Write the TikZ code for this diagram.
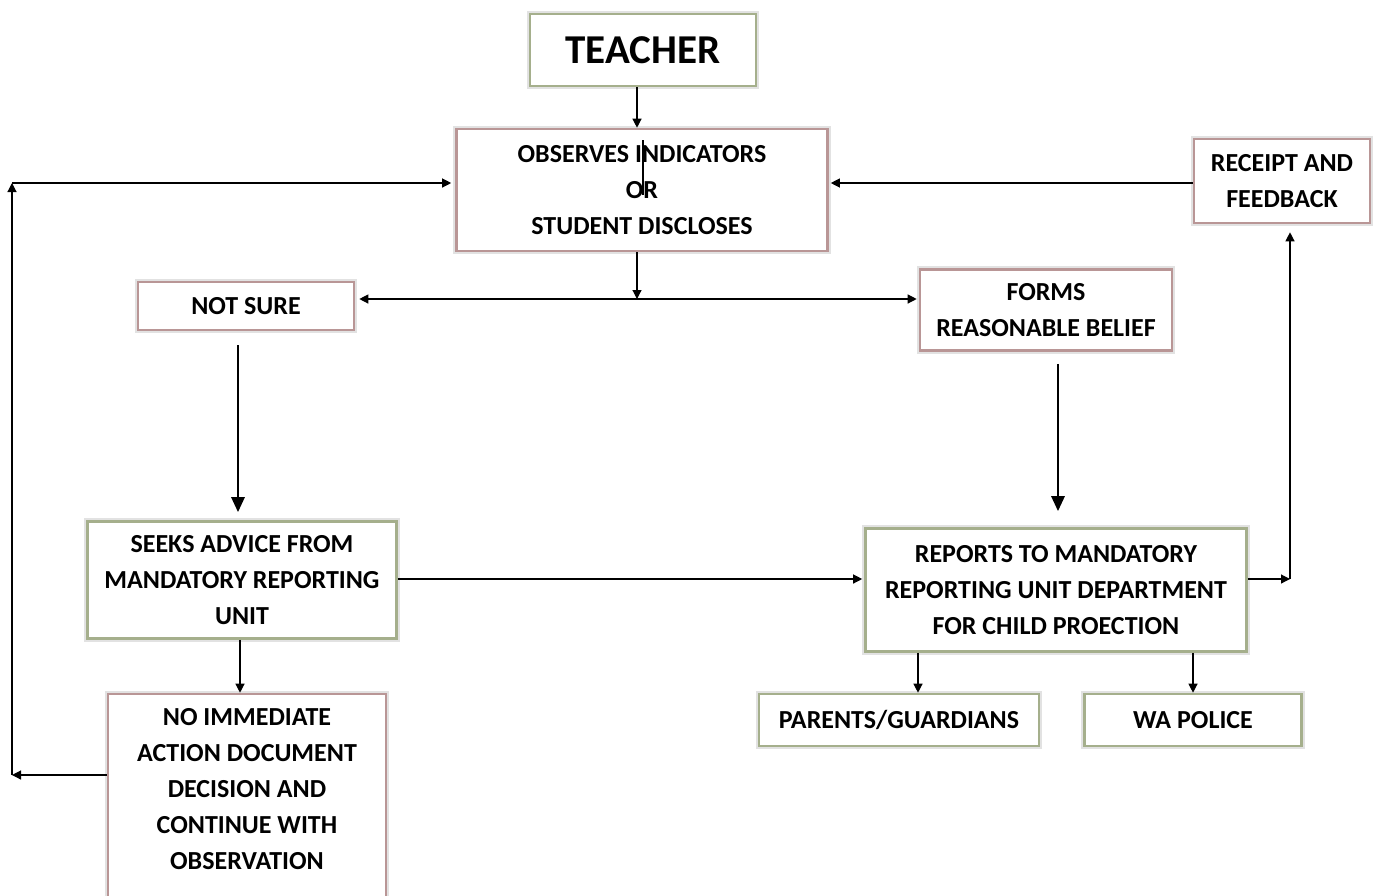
\documentclass[tikz,border=0pt]{standalone}
\usepackage{fontspec}
\setmainfont{Carlito}
\usetikzlibrary{arrows.meta}
\definecolor{framegreen}{RGB}{165,175,140}
\definecolor{framepink}{RGB}{185,150,150}
\definecolor{frameshade}{RGB}{226,226,226}

\begin{document}
\begin{tikzpicture}[x=0.5pt,y=-0.5pt,
    flowbox/.style={preaction={draw=frameshade,line width=3.2pt},draw=#1,line width=1.3pt,
      fill=white,align=center,font=\fontsize{13}{18}\selectfont\bfseries,inner sep=0pt},
    flowbox/.default=framegreen,
    arr/.style={-{Triangle[length=4.5pt,width=4.5pt]},line width=0.6pt},
    bigarr/.style={-{Triangle[length=7.5pt,width=6.5pt]},line width=1.4pt}]
      \useasboundingbox (0,0) rectangle (1382,895);
      \node[flowbox,minimum width=113pt,minimum height=36pt,font=\fontsize{20.5}{24}\selectfont\bfseries]
        (teacher) at (643,50) {TEACHER};
      \node[flowbox=framepink,minimum width=185.5pt,minimum height=61pt]
        (observes) at (642,190) {OBSERVES INDICATORS\\OR\\STUDENT DISCLOSES};
      \node[flowbox=framepink,minimum width=108pt,minimum height=24pt]
        (notsure) at (246,306) {NOT SURE};
      \node[flowbox=framepink,minimum width=126pt,minimum height=40.5pt]
        (forms) at (1046,310) {FORMS\\REASONABLE BELIEF};
      \node[flowbox=framepink,minimum width=88pt,minimum height=42pt]
        (receipt) at (1282,181) {RECEIPT AND\\FEEDBACK};
      \node[flowbox,minimum width=154.5pt,minimum height=58.5pt]
        (seeks) at (242,580) {SEEKS ADVICE FROM\\MANDATORY REPORTING\\UNIT};
      \node[flowbox,minimum width=190.5pt,minimum height=61.5pt]
        (reports) at (1056,590) {REPORTS TO MANDATORY\\REPORTING UNIT DEPARTMENT\\FOR CHILD PROECTION};
      \node[flowbox=framepink,minimum width=139pt,minimum height=106pt]
        (noimm) at (247,800) {};
      \node[align=center,font=\fontsize{13}{18}\selectfont\bfseries,inner sep=0pt]
        (noimmtext) at (247,789) {NO IMMEDIATE\\ACTION DOCUMENT\\DECISION AND\\CONTINUE WITH\\OBSERVATION};
      \node[flowbox,minimum width=140pt,minimum height=26pt]
        (parents) at (899,720) {PARENTS/GUARDIANS};
      \node[flowbox,minimum width=108.5pt,minimum height=26pt]
        (police) at (1193,720) {WA POLICE};

      \coordinate (split) at (637,299);
      \coordinate (rcorner) at (1290,579);
      \coordinate (lowleft) at (12,775);
      \coordinate (upleft) at (12,183);

      \draw[arr] (teacher.south -| split) -- (observes.north -| split);
      \draw[arr] (observes.south -| split) -- (split);
      \draw[arr] (split) -- ([xshift=2pt]notsure.east |- split);
      \draw[arr] (split) -- ([xshift=-1pt]forms.west |- split);
      \draw[bigarr,shorten <=7pt] (notsure.south -| 238,0) -- ([yshift=4pt]seeks.north -| 238,0);
      \draw[bigarr,shorten <=6pt] (forms.south -| 1058,0) -- ([yshift=8pt]reports.north -| 1058,0);
      \draw[arr] (seeks.east |- 0,579) -- ([xshift=-1pt]reports.west |- 0,579);
      \draw[arr] (reports.east |- rcorner) -- (rcorner);
      \draw[arr] (rcorner) -- ([yshift=-4pt]receipt.south -| rcorner);
      \draw[arr] (receipt.west |- upleft) -- ([xshift=1pt]observes.east |- upleft);
      \draw[arr] (seeks.south -| 240,0) -- (noimm.north -| 240,0);
      \draw[arr] (noimm.west |- lowleft) -- (lowleft);
      \draw[arr] (lowleft) -- (upleft);
      \draw[arr] (upleft) -- ([xshift=-2pt]observes.west |- upleft);
      \draw[arr] (reports.south -| 918,0) -- (parents.north -| 918,0);
      \draw[arr] (reports.south -| 1193,0) -- (police.north -| 1193,0);
      \draw[line width=0.6pt] (643,140) -- (643,195);
    \end{tikzpicture}
\end{document}
